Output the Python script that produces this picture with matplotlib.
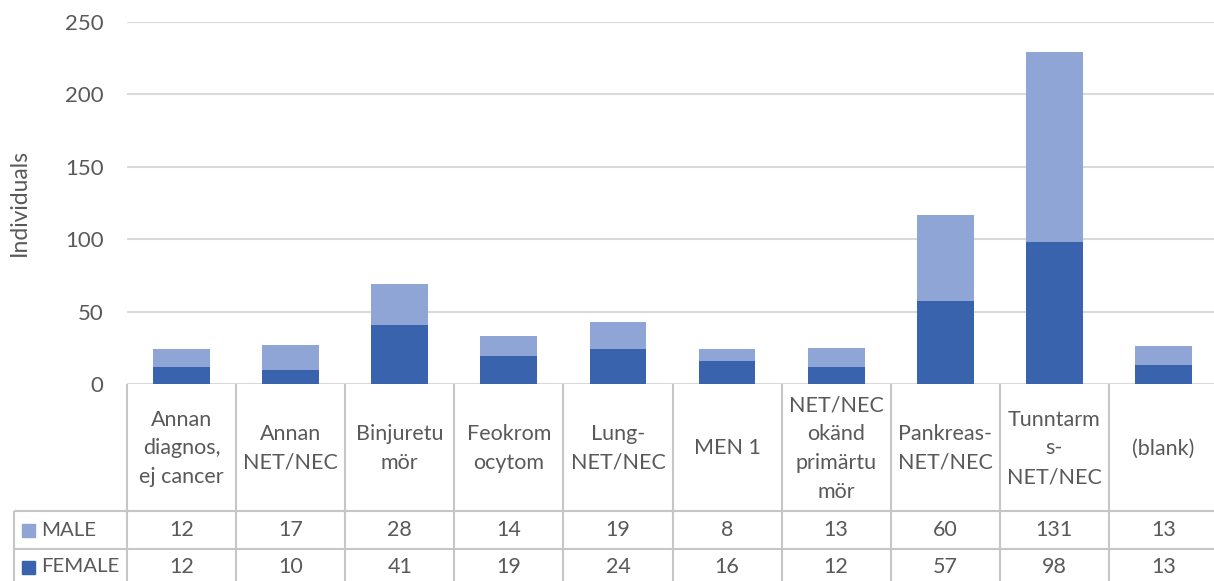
import matplotlib.pyplot as plt
from matplotlib.patches import Rectangle

categories = ["Annan\ndiagnos,\nej cancer", "Annan\nNET/NEC", "Binjuretu\nmör", "Feokrom\nocytom",
              "Lung-\nNET/NEC", "MEN 1", "NET/NEC\nokänd\nprimärtu\nmör", "Pankreas-\nNET/NEC",
              "Tunntarm\ns-\nNET/NEC", "(blank)"]
male = [12, 17, 28, 14, 19, 8, 13, 60, 131, 13]
female = [12, 10, 41, 19, 24, 16, 12, 57, 98, 13]
series_names = ["MALE", "FEMALE"]
yticks = [0, 50, 100, 150, 200, 250]

male_color = "#8FA5D6"
female_color = "#3A63AD"
text_color = "#595959"
grid_color = "#D9D9D9"
border_color = "#C6C6C6"

plt.rcParams['font.family'] = ['Lato', 'DejaVu Sans']
fs = 15.5

W, H = 1214, 581
fig = plt.figure(figsize=(W / 100, H / 100), dpi=100)
x0, x1 = 127, 1218
y_top, y_zero = 22, 384
ax = fig.add_axes([x0 / W, 1 - y_zero / H, (x1 - x0) / W, (y_zero - y_top) / H])

n = len(categories)
xs = range(n)
ax.bar(xs, female, width=0.52, color=female_color, zorder=3)
ax.bar(xs, male, width=0.52, bottom=female, color=male_color, zorder=3)
ax.set_xlim(-0.5, n - 0.5)
ax.set_ylim(0, 250)
ax.set_yticks(yticks)
ax.set_xticks([])
ax.tick_params(axis='y', length=0, pad=17, labelsize=fs + 0.5, labelcolor=text_color)
ax.yaxis.grid(True, color=grid_color, lw=1.5, zorder=0)
for s in ax.spines.values():
    s.set_visible(False)
ax.set_ylabel("Individuals", fontsize=fs + 1, color=text_color, labelpad=25)

# data table below the plot, drawn in pixel coordinates
tab = fig.add_axes([0, 0, 1, 1], zorder=-1)
tab.set_xlim(0, W)
tab.set_ylim(H, 0)
tab.axis('off')

col_w = (x1 - x0) / n
row_tops = [y_zero, 511, 549, 590]
legend_left = 14

lk = dict(color=border_color, lw=1.5, solid_capstyle='butt')
for i in range(n + 1):
    x = x0 + i * col_w
    tab.plot([x, x], [y_zero, H + 5], **lk)
tab.plot([legend_left, legend_left], [row_tops[1], H + 5], **lk)
for y in row_tops[1:3]:
    tab.plot([legend_left, x1], [y, y], **lk)

for i, cat in enumerate(categories):
    cx = x0 + (i + 0.5) * col_w
    tab.text(cx, (row_tops[0] + row_tops[1]) / 2 + 1, cat, ha='center', va='center',
             fontsize=fs, color=text_color, linespacing=1.55)

for r, (name, vals, c) in enumerate(zip(series_names, [male, female], [male_color, female_color])):
    cy = 530 if r == 0 else 567
    tab.add_patch(Rectangle((22, cy - 6), 13, 13, color=c))
    tab.text(41, cy, name, ha='left', va='center', fontsize=fs - 0.8, color=text_color)
    for i, v in enumerate(vals):
        tab.text(x0 + (i + 0.5) * col_w, cy, str(v), ha='center', va='center',
                 fontsize=fs, color=text_color)

fig.savefig("out.png", dpi=100)
